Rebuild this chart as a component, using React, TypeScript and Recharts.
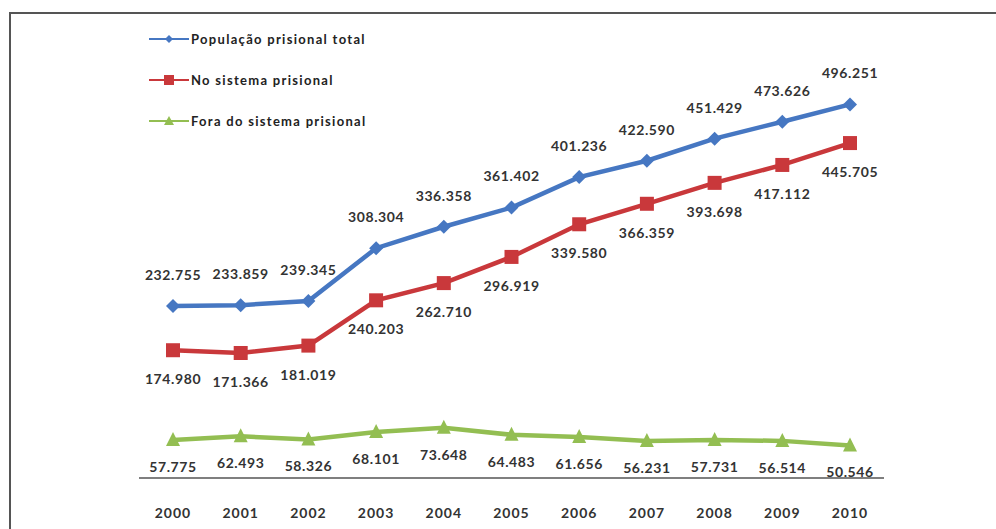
import React from "react";
import { LineChart, Line, XAxis, YAxis, LabelList } from "recharts";

const years = ["2000", "2001", "2002", "2003", "2004", "2005", "2006", "2007", "2008", "2009", "2010"];
const totalPop = [232755, 233859, 239345, 308304, 336358, 361402, 401236, 422590, 451429, 473626, 496251];
const inSystem = [174980, 171366, 181019, 240203, 262710, 296919, 339580, 366359, 393698, 417112, 445705];
const outSystem = [57775, 62493, 58326, 68101, 73648, 64483, 61656, 56231, 57731, 56514, 50546];

const seriesNames = ["População prisional total", "No sistema prisional", "Fora do sistema prisional"];

const data = years.map((y, i) => ({
  year: y,
  total: totalPop[i],
  inside: inSystem[i],
  outside: outSystem[i],
}));

const BLUE = "#4677C2";
const RED = "#C9383B";
const GREEN = "#93BE52";
const colors = [BLUE, RED, GREEN];
const FONT = "Lato, 'Open Sans', sans-serif";

const fmt = (v: number) => {
  const s = String(Math.round(v));
  return s.replace(/\B(?=(\d{3})+(?!\d))/g, ".");
};

const Diamond = (props: any) => {
  const { cx, cy } = props;
  if (cx == null || cy == null) return null;
  const r = 7;
  return <polygon points={`${cx},${cy - r} ${cx + r},${cy} ${cx},${cy + r} ${cx - r},${cy}`} fill={BLUE} />;
};
const Square = (props: any) => {
  const { cx, cy } = props;
  if (cx == null || cy == null) return null;
  const r = 7;
  return <rect x={cx - r} y={cy - r} width={2 * r} height={2 * r} fill={RED} />;
};
const Triangle = (props: any) => {
  const { cx, cy } = props;
  if (cx == null || cy == null) return null;
  const r = 7;
  return <polygon points={`${cx},${cy - r - 1} ${cx + r},${cy + r - 1} ${cx - r},${cy + r - 1}`} fill={GREEN} />;
};

const makeLabel = (dy: number) => (props: any) => {
  const { x, y, value } = props;
  if (x == null || y == null) return null;
  return (
    <text x={x} y={y + dy} dy="0.35em" textAnchor="middle" fontFamily={FONT} fontWeight={700} fontSize={14} letterSpacing={0.6} fill="#333">
      {fmt(value)}
    </text>
  );
};

const legendMarkers = [
  (x: number, y: number) => <polygon key="m" points={`${x},${y - 4} ${x + 4},${y} ${x},${y + 4} ${x - 4},${y}`} fill={BLUE} />,
  (x: number, y: number) => <rect key="m" x={x - 5} y={y - 5} width={10} height={10} fill={RED} />,
  (x: number, y: number) => <polygon key="m" points={`${x},${y - 5} ${x + 5},${y + 4} ${x - 5},${y + 4}`} fill={GREEN} />,
];

const LegendBox = () => (
  <div style={{ position: "absolute", left: 149, top: 29 }}>
    {seriesNames.map((name, i) => (
      <div key={i} style={{ display: "flex", alignItems: "center", height: 20, marginBottom: i < seriesNames.length - 1 ? 21 : 0 }}>
        <svg width={42} height={14} style={{ display: "block" }}>
          <line x1={0} y1={7} x2={40} y2={7} stroke={colors[i]} strokeWidth={2} />
          {legendMarkers[i](20, 7)}
        </svg>
        <span style={{ fontFamily: FONT, fontWeight: 700, fontSize: 13, letterSpacing: 1.3, color: "#222", whiteSpace: "nowrap" }}>{name}</span>
      </div>
    ))}
  </div>
);

export default function App() {
  return (
    <div style={{ position: "absolute", left: 0, top: 0, width: 996, height: 529, background: "#fff", overflow: "hidden" }}>
      <div style={{ position: "absolute", left: 9, top: 12, width: 1100, height: 700, borderTop: "2px solid #555", borderLeft: "2px solid #555" }} />
      <div style={{ position: "absolute", left: 0, top: 0 }}>
        <LineChart width={996} height={529} data={data} margin={{ top: 25, right: 112, left: 139, bottom: 21 }}>
          <XAxis
            dataKey="year"
            padding={{ left: 34, right: 34 }}
            axisLine={{ stroke: "#555", strokeWidth: 1.5 }}
            tickLine={false}
            tickSize={0}
            tickMargin={30}
            height={30}
            interval={0}
            tick={{ fontFamily: FONT, fontWeight: 700, fontSize: 14, fill: "#333", letterSpacing: 1 }}
          />
          <YAxis hide domain={[8000, 600000]} />
          <Line dataKey="total" name={seriesNames[0]} stroke={BLUE} strokeWidth={4.5} dot={<Diamond />} activeDot={false} isAnimationActive={false}>
            <LabelList dataKey="total" content={makeLabel(-31)} />
          </Line>
          <Line dataKey="inside" name={seriesNames[1]} stroke={RED} strokeWidth={4.5} dot={<Square />} activeDot={false} isAnimationActive={false}>
            <LabelList dataKey="inside" content={makeLabel(29)} />
          </Line>
          <Line dataKey="outside" name={seriesNames[2]} stroke={GREEN} strokeWidth={4.5} dot={<Triangle />} activeDot={false} isAnimationActive={false}>
            <LabelList dataKey="outside" content={makeLabel(27)} />
          </Line>
        </LineChart>
      </div>
      <LegendBox />
    </div>
  );
}
